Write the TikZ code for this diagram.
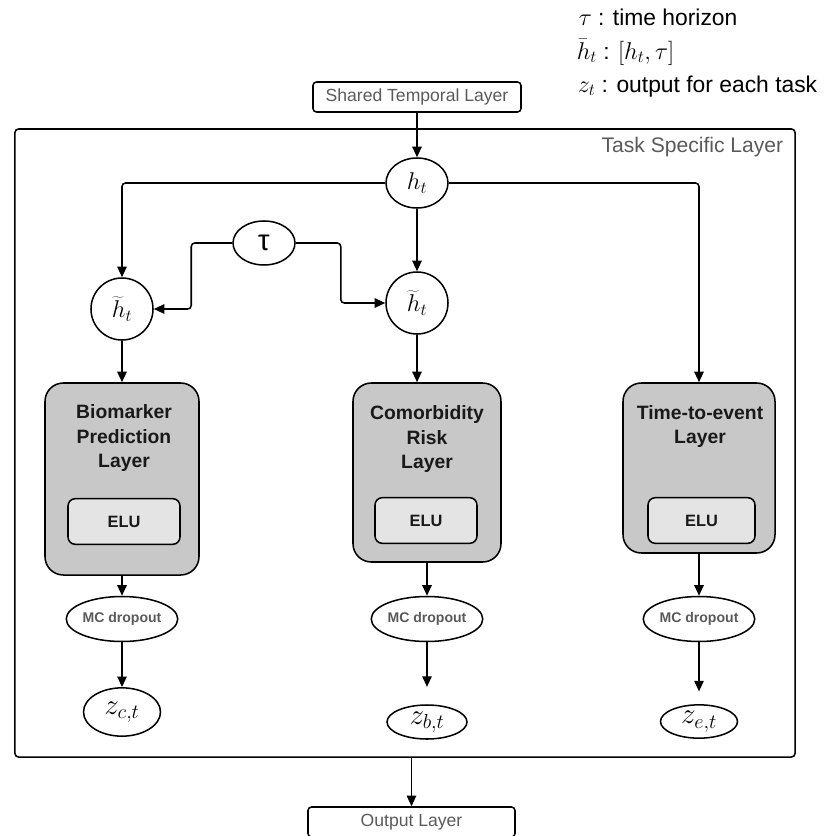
\documentclass[tikz,border=0pt]{standalone}
\usepackage[no-math]{fontspec}
\setmainfont{Liberation Sans}
\usetikzlibrary{shapes.geometric,arrows.meta}
\definecolor{labelgray}{HTML}{5A5A5A}
\definecolor{layerfill}{HTML}{C8C8C8}
\definecolor{actfill}{HTML}{E4E4E4}
\newcommand\legmath[1]{{\fontsize{22}{26}\selectfont#1}}
\newcommand\legtext[1]{{\fontsize{19.5}{23}\selectfont#1}}

\begin{document}
\begin{tikzpicture}[x=0.03cm, y=-0.03cm, line width=1.3pt,
  arr/.style={-{Triangle[length=9pt,width=8pt]}},
  io/.style={draw, rounded corners=3pt, inner sep=0pt, text=labelgray,
    font=\fontsize{15}{18}\selectfont},
  state/.style={draw, ellipse, inner sep=0pt, font=\fontsize{22}{26}\selectfont},
  layerbox/.style={draw, rounded corners=0.55cm, fill=layerfill, inner sep=0pt},
  actbox/.style={draw, rounded corners=0.22cm, fill=actfill, inner sep=0pt,
    minimum height=1.37cm, text=black!90, font=\bfseries\fontsize{14}{17}\selectfont},
  layertitle/.style={align=center, inner sep=0pt, text=black!90,
    font=\bfseries\fontsize{16.5}{21.3}\selectfont},
  drop/.style={draw, ellipse, inner sep=0pt, minimum height=1.35cm, text=labelgray,
    font=\bfseries\fontsize{12}{14}\selectfont},
  outnode/.style={draw, ellipse, inner sep=0pt, font=\fontsize{27}{32}\selectfont},
]
\useasboundingbox (0,0) rectangle (833,836);
\clip (0,0) rectangle (833,836);

% legend
\node[anchor=base west, inner sep=0pt] (leg1) at (578,25)
  {\legmath{$\tau$}\legtext{ : time horizon}};
\node[anchor=base west, inner sep=0pt] (leg2) at (576,59)
  {\legmath{$\bar{h}_t$}\legtext{ : }\legmath{$[h_t,\tau]$}};
\node[anchor=base west, inner sep=0pt] (leg3) at (577,92)
  {\legmath{$z_t$}\legtext{ : output for each task}};

% input and output layers
\node[io, minimum width=6.24cm, minimum height=0.9cm] (shared) at (417,97) {Shared Temporal Layer};
\node[io, minimum width=6.21cm, minimum height=0.9cm] (output) at (411.5,822) {Output Layer};

% task specific frame
\node[draw, rounded corners=3pt, inner sep=0pt, minimum width=23.4cm, minimum height=18.84cm]
  (task) at (405,443) {};
\node[anchor=north east, inner sep=0pt, text=labelgray, font=\fontsize{18}{22}\selectfont]
  (tasklabel) at (784,136) {Task Specific Layer};

% hidden states
\node[state, minimum width=1.86cm, minimum height=1.5cm] (ht) at (417,183) {$h_t$};
\node[state, minimum width=1.86cm, minimum height=1.32cm, font=\fontsize{25}{29}\selectfont]
  (tau) at (264,243) {τ};
\node[state, minimum width=1.86cm, minimum height=1.86cm] (hl) at (122,309) {$\widetilde{h}_t$};
\node[state, minimum width=1.86cm, minimum height=1.86cm] (hm) at (417,303) {$\widetilde{h}_t$};

% task layers
\node[layerbox, minimum width=4.62cm, minimum height=5.76cm] (bio) at (122,479) {};
\node[layertitle] (biot) at (124,438) {Biomarker\\Prediction\\Layer};
\node[actbox, minimum width=3.36cm] (bioelu) at (124,521.5) {ELU};

\node[layerbox, minimum width=4.44cm, minimum height=5.37cm] (com) at (427,472.5) {};
\node[layertitle] (comt) at (427,439) {Comorbidity\\Risk\\Layer};
\node[actbox, minimum width=3.06cm] (comelu) at (426,520.5) {ELU};

\node[layerbox, minimum width=4.56cm, minimum height=5.1cm] (time) at (699,468) {};
\node[layertitle] (timet) at (700,426.5) {Time-to-event\\Layer};
\node[actbox, minimum width=3.21cm] (timeelu) at (701.5,520.5) {ELU};

% dropout and outputs
\node[drop, minimum width=2.94cm] (mcc) at (122,619) {MC dropout};
\node[drop, minimum width=3.0cm] (mcb) at (427,619) {MC dropout};
\node[drop, minimum width=3.0cm] (mce) at (699,619) {MC dropout};

\node[outnode, minimum width=2.31cm, minimum height=1.45cm] (zc) at (122,712) {$z_{c,t}$};
\node[outnode, minimum width=2.4cm, minimum height=1.02cm] (zb) at (427,722) {$z_{b,t}$};
\node[outnode, minimum width=2.31cm, minimum height=1.0cm] (ze) at (699,721.5) {$z_{e,t}$};

% connectors
\draw[arr] (shared) -- (ht);
\draw[arr, rounded corners=3pt] (ht.west) -| (hl.north);
\draw[arr, rounded corners=3pt] (ht.east) -| (time.north);
\draw[arr] (ht) -- (hm);
\draw[arr, rounded corners=3pt] (tau.west) -- ++(-41,0) |- (hl.east);
\draw[arr, rounded corners=3pt] (tau.east) -- ++(45,0) |- (hm.west);

\draw[arr] (hl) -- (hl |- bio.north);
\draw[arr] (hm.south) -- (hm.south |- com.north);

\draw[arr] (bio) -- (mcc);
\draw[arr] (com) -- (mcb);
\draw[arr] (time) -- (mce);

\draw[arr] (mcc) -- (zc);
\draw[arr, shorten >=0.52cm] (mcb) -- (zb);
\draw[arr, shorten >=0.38cm] (mce) -- (ze);

\draw[arr] (output.north |- task.south) -- (output.north);
\end{tikzpicture}
\end{document}
